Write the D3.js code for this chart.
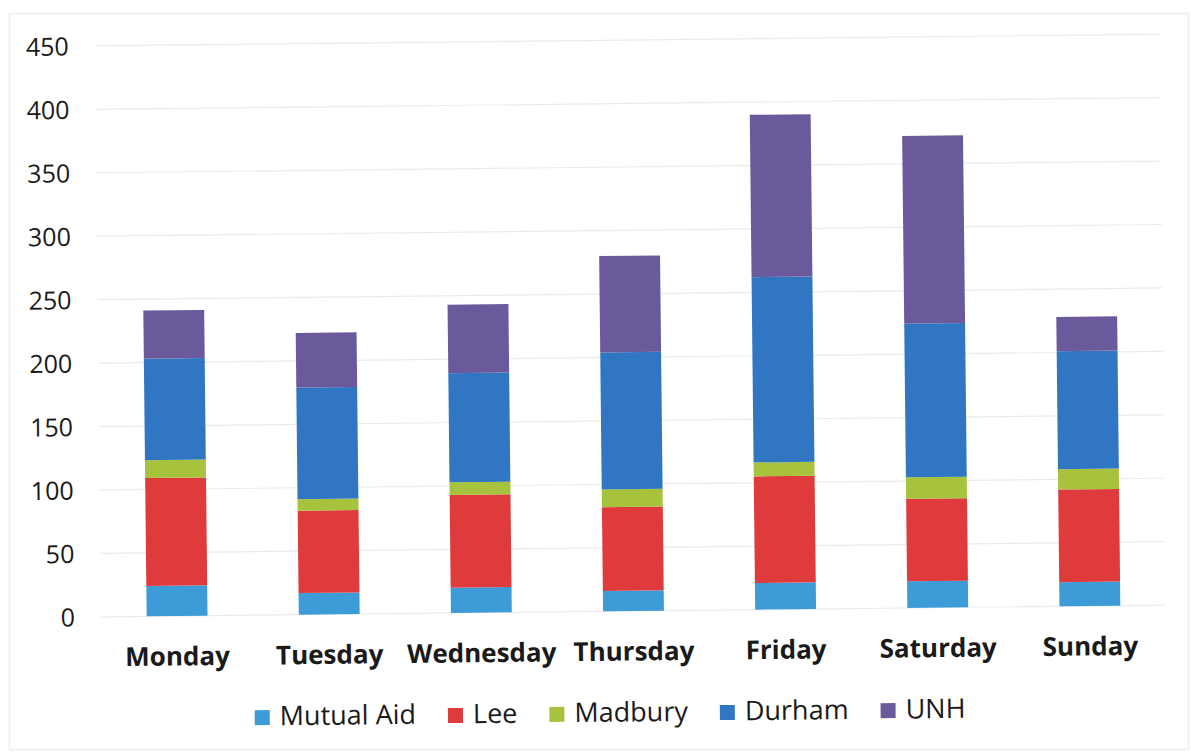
<!DOCTYPE html>
<html>
<head>
<meta charset="utf-8">
<script src="https://cdn.jsdelivr.net/npm/d3@7/dist/d3.min.js"></script>
<style>
  html, body { margin: 0; padding: 0; background: #ffffff; }
  svg { display: block; }
  text { font-family: "Open Sans", "DejaVu Sans", sans-serif; fill: #1a1a1a; }
</style>
</head>
<body>
<svg id="chart" width="1191" height="754"></svg>
<script>
// Calls by day of week, split by responding agency
const days = ["Monday", "Tuesday", "Wednesday", "Thursday", "Friday", "Saturday", "Sunday"];
const seriesNames = ["Mutual Aid", "Lee", "Madbury", "Durham", "UNH"];
const mutualAid = [24, 17, 20, 16, 21, 21, 19];
const lee       = [85, 65, 73, 66, 84, 65, 73];
const madbury   = [14, 9, 10, 14, 11, 17, 16];
const durham    = [80, 88, 86, 108, 146, 121, 93];
const unh       = [38, 43, 54, 76, 128, 148, 27];
const yTicks    = [0, 50, 100, 150, 200, 250, 300, 350, 400, 450];
const colors    = ["#3d9bd8", "#e03b3c", "#a7c23c", "#3176c3", "#6a5a9b"];

const seriesValues = [mutualAid, lee, madbury, durham, unh];
const rows = days.map((d, i) => {
  const r = { day: d };
  seriesNames.forEach((s, k) => { r[s] = seriesValues[k][i]; });
  return r;
});

const svg = d3.select("#chart");

// faint page edge
svg.append("rect")
  .attr("x", 9.5).attr("y", 13.5).attr("width", 1179).attr("height", 736)
  .attr("fill", "none").attr("stroke", "#f1f1f1").attr("stroke-width", 2);

// the whole chart sits at a slight tilt
const g = svg.append("g").attr("transform", "rotate(-0.63, 633, 611)");

const x = d3.scaleBand().domain(days).range([101, 1166]).paddingInner(0.6).paddingOuter(0.3);
const y = d3.scaleLinear().domain([0, 450]).range([611, 40]);

// gridlines
g.append("g").selectAll("line").data(yTicks).join("line")
  .attr("x1", 101).attr("x2", 1166)
  .attr("y1", d => y(d)).attr("y2", d => y(d))
  .attr("stroke", "#ebebeb").attr("stroke-width", 1.2);

// y axis labels
const yAxis = d3.axisLeft(y).tickValues(yTicks).tickSize(0).tickPadding(0);
const ya = g.append("g").attr("transform", "translate(75,0)").call(yAxis);
ya.select(".domain").remove();
ya.selectAll("text")
  .attr("font-size", 25).attr("font-family", "\"Open Sans\", sans-serif")
  .attr("fill", "#1a1a1a").attr("dy", "0.35em");

// stacked bars
const stacked = d3.stack().keys(seriesNames)(rows);
g.append("g").selectAll("g").data(stacked).join("g")
  .attr("fill", (d, i) => colors[i])
  .selectAll("rect").data(d => d).join("rect")
  .attr("x", d => x(d.data.day))
  .attr("y", d => y(d[1]))
  .attr("width", x.bandwidth())
  .attr("height", d => y(d[0]) - y(d[1]));

// x axis labels
const xAxis = d3.axisBottom(x).tickSize(0).tickPadding(0);
const xa = g.append("g").attr("transform", "translate(0,642)").call(xAxis);
xa.select(".domain").remove();
xa.selectAll("text")
  .attr("font-size", 26).attr("font-weight", "bold")
  .attr("font-family", "\"Open Sans\", sans-serif")
  .attr("fill", "#1a1a1a").attr("dy", "0.71em");

// legend
const legend = g.append("g");
const items = legend.selectAll("g").data(seriesNames).join("g");
items.append("rect").attr("width", 15).attr("height", 15).attr("y", -6)
  .attr("fill", (d, i) => colors[i]);
items.append("text").attr("x", 25).attr("dy", "0.35em")
  .attr("font-size", 27).text(d => d);
let cursor = 0;
items.each(function () {
  const it = d3.select(this);
  it.attr("transform", `translate(${cursor},0)`);
  cursor += 25 + it.select("text").node().getComputedTextLength() + 32;
});
const legendWidth = cursor - 32;
legend.attr("transform", `translate(${609 - legendWidth / 2},712)`);
</script>
</body>
</html>
